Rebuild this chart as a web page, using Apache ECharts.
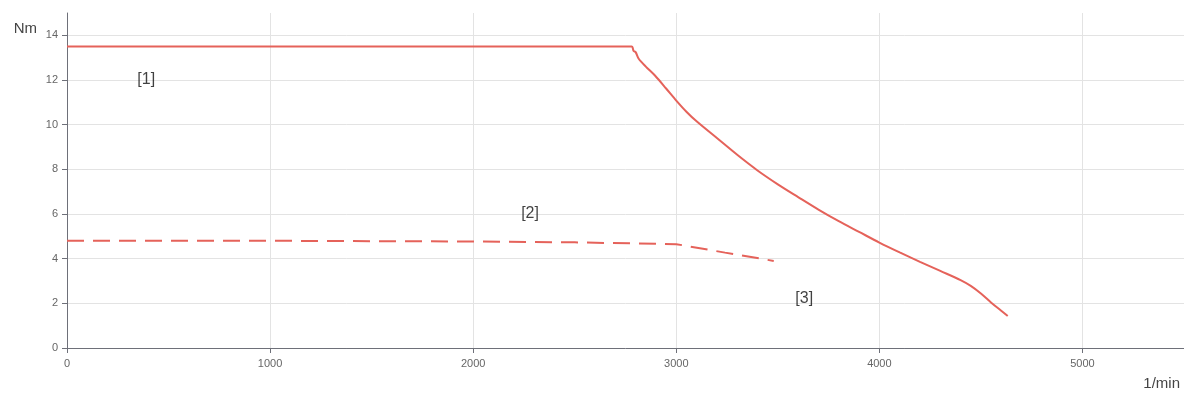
<!DOCTYPE html>
<html>
<head>
<meta charset="utf-8">
<script src="https://cdn.jsdelivr.net/npm/echarts@6/dist/echarts.min.js"></script>
<style>
  html, body { margin: 0; padding: 0; background: #fff; }
  #chart { width: 1184px; height: 396px; }
</style>
</head>
<body>
<div id="chart"></div>
<script>
// Torque characteristic: speed (1/min) vs torque (Nm)
const peakTorqueCurve = [
  [0, 13.5], [2780, 13.5], [2790, 13.3], [2800, 13.25], [2815, 12.95],
  [2850, 12.6], [2895, 12.2], [2950, 11.62], [3000, 11.08], [3050, 10.58],
  [3100, 10.15], [3200, 9.4], [3300, 8.65], [3400, 7.95], [3500, 7.33],
  [3600, 6.76], [3700, 6.2], [3800, 5.68], [3900, 5.2], [4000, 4.72],
  [4100, 4.28], [4200, 3.86], [4300, 3.45], [4400, 3.04], [4450, 2.78],
  [4500, 2.44], [4551, 2.03], [4600, 1.67], [4632, 1.43]
];
const continuousTorqueCurve = [
  [0, 4.8], [1000, 4.8], [2000, 4.77], [2500, 4.73], [3000, 4.65],
  [3240, 4.27], [3480, 3.9]
];
const curveLabels = [
  { name: '[1]', value: [390, 12.0] },
  { name: '[2]', value: [2280, 6.0] },
  { name: '[3]', value: [3630, 2.2] }
];
const xAxisName = '1/min';
const yAxisName = 'Nm';

const lineColor = '#e5625a';
const font = 'Arial, "Liberation Sans", sans-serif';
const chart = echarts.init(document.getElementById('chart'));
chart.setOption({
  animation: false,
  backgroundColor: '#fff',
  grid: { left: 67, right: 0, top: 13, bottom: 48, containLabel: false },
  xAxis: {
    type: 'value',
    min: 0, max: 5500, interval: 1000,
    name: xAxisName,
    nameLocation: 'end',
    nameGap: 0,
    nameTextStyle: {
      fontFamily: font, fontSize: 15, color: '#444',
      align: 'right', verticalAlign: 'top',
      padding: [28, 4, 0, 0]
    },
    axisLine: { show: true, lineStyle: { color: '#6e7079' } },
    axisTick: { show: true, length: 5, lineStyle: { color: '#6e7079' } },
    axisLabel: {
      fontFamily: font, fontSize: 11, color: '#666', margin: 10,
      showMaxLabel: false,
      formatter: v => String(v)
    },
    splitLine: { show: true, showMaxLine: false, lineStyle: { color: '#e3e3e3' } }
  },
  yAxis: {
    type: 'value',
    min: 0, max: 15, interval: 2,
    name: yAxisName,
    nameLocation: 'end',
    nameGap: -8,
    nameTextStyle: {
      fontFamily: font, fontSize: 15, color: '#444',
      align: 'right', verticalAlign: 'top',
      padding: [0, 30, 0, 0]
    },
    axisLine: { show: true, lineStyle: { color: '#6e7079' } },
    axisTick: { show: true, length: 5, lineStyle: { color: '#6e7079' } },
    axisLabel: {
      fontFamily: font, fontSize: 11, color: '#666', margin: 9,
      showMaxLabel: false
    },
    splitLine: { show: true, showMaxLine: false, lineStyle: { color: '#e3e3e3' } }
  },
  series: [
    {
      type: 'line',
      data: peakTorqueCurve,
      showSymbol: false,
      smooth: 0.3,
      lineStyle: { color: lineColor, width: 2 },
      z: 3
    },
    {
      type: 'line',
      data: continuousTorqueCurve,
      showSymbol: false,
      lineStyle: { color: lineColor, width: 2, type: [17, 9] },
      z: 3
    },
    {
      type: 'scatter',
      data: curveLabels,
      symbolSize: 0,
      silent: true,
      label: {
        show: true,
        position: 'inside',
        formatter: p => p.name,
        fontFamily: font,
        fontSize: 16,
        color: '#111'
      }
    }
  ]
});
</script>
</body>
</html>
